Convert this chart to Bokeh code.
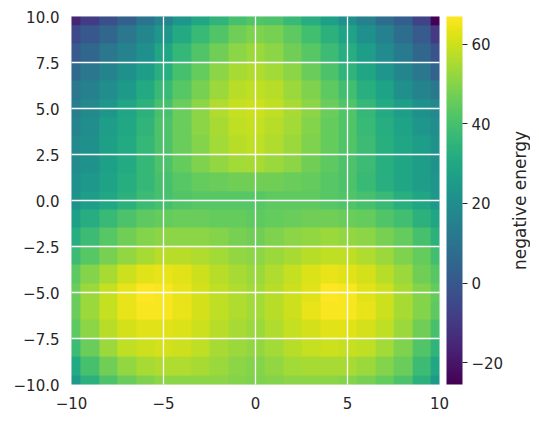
import numpy as np
from bokeh.plotting import figure
from bokeh.layouts import row
from bokeh.models import (LinearColorMapper, ColorBar, FixedTicker,
                          CustomJSTickFormatter)
from bokeh.palettes import Viridis256
from bokeh.embed import file_html
from bokeh.resources import INLINE

# grid coordinates (cell centres)
x_coords = list(range(-10, 11))
y_coords = list(range(10, -11, -1))

# negative energy, one row per y (top to bottom), x = -10 .. 10
row_y10 = [-16, -9, -3, 3, 10, 16, 23, 30, 35, 40, 42, 41, 37, 32, 27, 21, 15, 8, 2, -7, -25]
row_y9 = [-5, 0, 5, 11, 17, 23, 31, 37, 42, 47, 49, 48, 44, 39, 34, 28, 21, 15, 8, 1, -10]
row_y8 = [1, 5, 11, 16, 21, 29, 36, 42, 47, 51, 53, 51, 47, 43, 38, 32, 26, 19, 13, 5, -2]
row_y7 = [6, 11, 16, 21, 26, 33, 40, 45, 51, 55, 56, 54, 51, 46, 41, 35, 29, 23, 17, 11, 4]
row_y6 = [11, 15, 20, 25, 31, 37, 43, 48, 53, 57, 58, 57, 53, 49, 44, 39, 33, 28, 21, 16, 11]
row_y5 = [14, 18, 23, 29, 34, 40, 46, 51, 56, 59, 60, 58, 55, 51, 46, 42, 36, 31, 26, 21, 18]
row_y4 = [16, 20, 26, 30, 35, 41, 46, 51, 55, 58, 59, 57, 54, 50, 45, 42, 37, 32, 28, 23, 20]
row_y3 = [18, 21, 27, 31, 36, 41, 46, 50, 54, 57, 58, 56, 53, 49, 45, 42, 38, 33, 29, 26, 22]
row_y2 = [19, 22, 27, 31, 36, 41, 45, 49, 52, 54, 55, 53, 51, 47, 44, 41, 38, 33, 29, 26, 22]
row_y1 = [21, 24, 28, 32, 36, 40, 43, 45, 46, 47, 47, 47, 46, 45, 43, 41, 37, 33, 29, 26, 23]
row_y0 = [22, 26, 30, 34, 38, 40, 42, 43, 43, 43, 43, 44, 44, 44, 43, 42, 40, 37, 33, 29, 24]
row_ym1 = [27, 32, 37, 41, 44, 45, 46, 46, 45, 45, 44, 45, 46, 47, 47, 46, 45, 42, 39, 34, 29]
row_ym2 = [32, 38, 43, 47, 50, 51, 51, 51, 50, 48, 47, 49, 51, 52, 53, 52, 51, 48, 45, 40, 34]
row_ym3 = [38, 43, 48, 52, 55, 57, 57, 56, 54, 52, 51, 53, 55, 57, 58, 58, 56, 53, 49, 45, 39]
row_ym4 = [44, 50, 55, 60, 63, 64, 63, 60, 57, 55, 53, 56, 59, 62, 64, 63, 61, 57, 53, 47, 43]
row_ym5 = [46, 53, 59, 64, 67, 66, 64, 61, 58, 56, 54, 57, 60, 63, 67, 66, 63, 60, 55, 50, 45]
row_ym6 = [46, 53, 59, 64, 66, 66, 64, 61, 58, 56, 54, 57, 60, 64, 66, 66, 64, 60, 55, 50, 44]
row_ym7 = [44, 51, 57, 61, 63, 63, 62, 60, 57, 55, 53, 56, 59, 61, 63, 63, 61, 58, 53, 47, 40]
row_ym8 = [38, 46, 53, 58, 60, 61, 60, 58, 55, 53, 52, 54, 57, 59, 60, 59, 58, 54, 49, 42, 35]
row_ym9 = [31, 40, 47, 52, 55, 56, 56, 55, 53, 51, 50, 52, 54, 55, 55, 55, 53, 50, 46, 38, 30]
row_ym10 = [25, 34, 41, 46, 49, 51, 51, 51, 51, 50, 49, 50, 51, 51, 51, 50, 48, 45, 41, 34, 25]

rows_top_to_bottom = [row_y10, row_y9, row_y8, row_y7, row_y6, row_y5, row_y4, row_y3,
                      row_y2, row_y1, row_y0, row_ym1, row_ym2, row_ym3, row_ym4, row_ym5,
                      row_ym6, row_ym7, row_ym8, row_ym9, row_ym10]

x_ticks = [-10, -5, 0, 5, 10]
y_ticks = [-10, -7.5, -5, -2.5, 0, 2.5, 5, 7.5, 10]
cbar_ticks = [-20, 0, 20, 40, 60]
cbar_low, cbar_high = -25.5, 67.0
cbar_title = "negative energy"

# image rows in bokeh go bottom -> top
img = np.array(rows_top_to_bottom, dtype=float)[::-1]

step = x_coords[1] - x_coords[0]
x0 = x_coords[0] - step / 2
y0 = y_coords[-1] - step / 2
span = len(x_coords) * step

TEXT = "#262626"
FONT = "DejaVu Sans"

p = figure(x_range=(-10, 10), y_range=(-10, 10),
           frame_width=368, frame_height=368,
           min_border_left=71, min_border_top=16, min_border_bottom=39,
           min_border_right=62,
           output_backend="svg", toolbar_location=None)

mapper = LinearColorMapper(palette=Viridis256, low=cbar_low, high=cbar_high)
p.image(image=[img], x=x0, y=y0, dw=span, dh=span, color_mapper=mapper)

p.background_fill_color = "#EAEAF2"
p.border_fill_color = "white"
p.outline_line_color = None

fmt_x = CustomJSTickFormatter(code="return (tick < 0 ? '\u2212' : '') + Math.abs(tick).toFixed(0);")
fmt_y = CustomJSTickFormatter(code="return (tick < 0 ? '\u2212' : '') + Math.abs(tick).toFixed(1);")
fmt_c = CustomJSTickFormatter(code="return (tick < 0 ? '\u2212' : '') + Math.abs(tick).toFixed(0);")

p.xaxis.ticker = FixedTicker(ticks=x_ticks)
p.yaxis.ticker = FixedTicker(ticks=y_ticks)
p.xaxis.formatter = fmt_x
p.yaxis.formatter = fmt_y
for ax in (p.xaxis, p.yaxis):
    ax.axis_line_color = None
    ax.major_tick_line_color = None
    ax.minor_tick_line_color = None
    ax.major_tick_out = 0
    ax.major_tick_in = 0
    ax.minor_tick_out = 0
    ax.major_label_text_font = FONT
    ax.major_label_text_font_size = "15px"
    ax.major_label_text_color = TEXT
p.xaxis.major_label_standoff = 12
p.yaxis.major_label_standoff = 12

p.xgrid.ticker = FixedTicker(ticks=x_ticks)
p.ygrid.ticker = FixedTicker(ticks=y_ticks)
for g in (p.xgrid, p.ygrid):
    g.grid_line_color = "white"
    g.grid_line_width = 1.3
    g.level = "overlay"

cb = ColorBar(color_mapper=mapper, ticker=FixedTicker(ticks=cbar_ticks),
              formatter=fmt_c, width=16, height=368, location=(7, 0),
              padding=0, margin=0,
              major_tick_in=0, major_tick_out=5, major_tick_line_color=TEXT,
              minor_tick_line_color=None, label_standoff=4,
              major_label_text_font=FONT, major_label_text_font_size="15px",
              major_label_text_color=TEXT,
              bar_line_color=None, border_line_color=None,
              background_fill_color=None)
p.add_layout(cb, "right")

# narrow companion figure whose left axis label is the colour bar's title
t = figure(x_range=(0, 1), y_range=(cbar_low, cbar_high),
           frame_width=1, frame_height=368,
           min_border_left=23, min_border_right=0, min_border_top=16, min_border_bottom=39,
           output_backend="svg", toolbar_location=None)
t.outline_line_color = None
t.background_fill_color = "white"
t.border_fill_color = "white"
t.grid.visible = False
t.xaxis.visible = False
t.yaxis.ticker = FixedTicker(ticks=[])
t.yaxis.axis_line_color = None
t.yaxis.major_tick_line_color = None
t.yaxis.minor_tick_line_color = None
t.yaxis.major_tick_out = 0
t.yaxis.minor_tick_out = 0
t.yaxis.major_label_standoff = 0
t.yaxis.axis_label = cbar_title
t.yaxis.axis_label_standoff = 0
t.yaxis.axis_label_text_font = FONT
t.yaxis.axis_label_text_font_size = "17px"
t.yaxis.axis_label_text_font_style = "normal"
t.yaxis.axis_label_text_color = TEXT

layout = row(p, t, spacing=0)

with open("out.html", "w", encoding="utf-8") as f:
    f.write(file_html(layout, INLINE))
